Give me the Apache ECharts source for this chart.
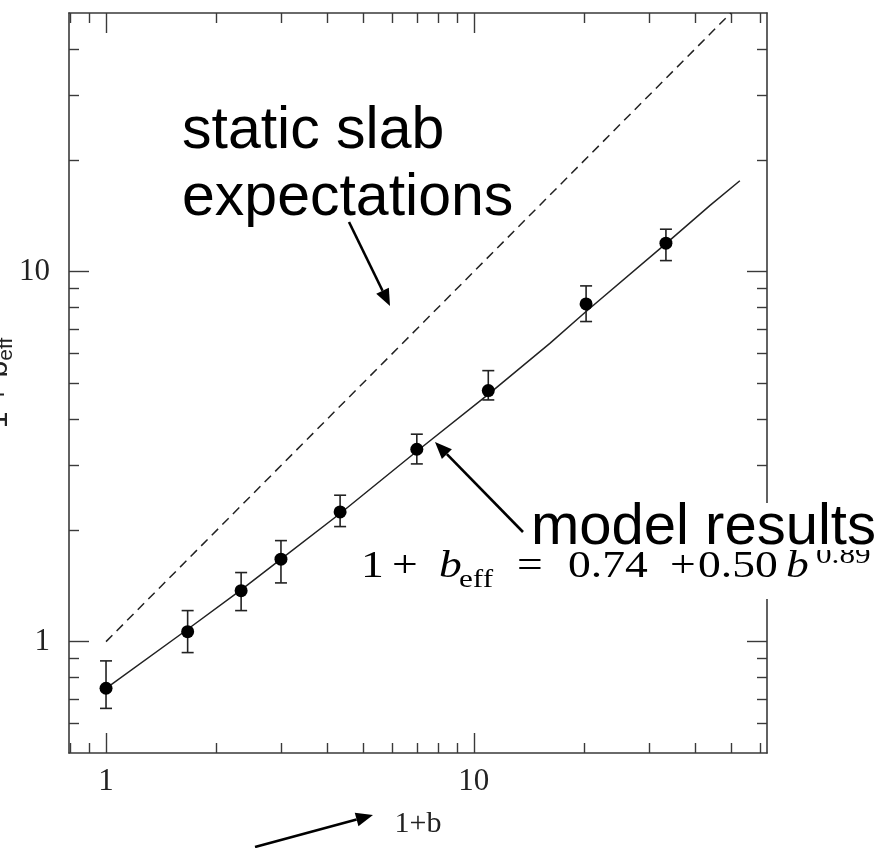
<!DOCTYPE html>
<html>
<head>
<meta charset="utf-8">
<title>1+b_eff versus 1+b</title>
<script src="https://cdn.jsdelivr.net/npm/echarts@6/dist/echarts.min.js"></script>
<style>
  html, body { margin: 0; padding: 0; background: #ffffff; }
  #chart { width: 890px; height: 848px; }
</style>
</head>
<body>
<div id="chart"></div>
<script>
// Measured points: 1+b, 1+b_eff with lower / upper error limits
const pointX = [1, 1.667, 2.33, 2.99, 4.33, 7.0, 10.95, 20.2, 33.3];
const pointY = [0.748, 1.064, 1.373, 1.670, 2.242, 3.311, 4.77, 8.18, 11.94];
const pointLow = [0.66, 0.934, 1.213, 1.441, 2.046, 3.022, 4.50, 7.33, 10.71];
const pointHigh = [0.887, 1.213, 1.537, 1.875, 2.487, 3.636, 5.40, 9.15, 13.02];

// Model curve 1 + b_eff = 0.74 + 0.50 b^0.89 (vertices)
const modelX = [1, 1.667, 2.33, 2.99, 4.33, 7.0, 10.95, 16.1, 20.2, 33.3, 43.9, 52.9];
const modelY = [0.748, 1.08, 1.38, 1.67, 2.22, 3.27, 4.66, 6.4, 7.8, 11.9, 15.1, 17.6];

// Static slab expectation: 1 + b_eff = 1 + b
const slabX = [1, 50];
const slabY = [1, 50];

// Axis ranges and ticks
const xRange = [0.7931, 62.7];
const yRange = [0.5, 50];
const xMajorTicks = [1, 10];
const xMinorTicks = [0.8, 0.9, 2, 3, 4, 5, 6, 7, 8, 9, 20, 30, 40, 50, 60];
const yMajorTicks = [1, 10];
const yMinorTicks = [0.6, 0.7, 0.8, 0.9, 2, 3, 4, 5, 6, 7, 8, 9, 20, 30, 40];
const tickLabels = [1, 10];

const INK = '#222222';
const FRAME = '#3a3a3a';
const SERIF = '"Liberation Serif", "DejaVu Serif", serif';
const SANS = '"Liberation Sans", Arial, sans-serif';

const chart = echarts.init(document.getElementById('chart'), null, { renderer: 'canvas' });

function tickAxis(dim, position, ticks, len, withLine, extra) {
  const range = dim === 'x' ? xRange : yRange;
  return Object.assign({
    type: 'log',
    logBase: 10,
    gridIndex: 0,
    position: position,
    min: range[0],
    max: range[1],
    axisLine: { show: withLine, lineStyle: { color: FRAME, width: 1.6 } },
    axisTick: { show: true, inside: true, length: len, customValues: ticks,
                lineStyle: { color: FRAME, width: 1.4 } },
    axisLabel: { show: false },
    splitLine: { show: false },
    minorTick: { show: false },
    minorSplitLine: { show: false }
  }, extra || {});
}

const xAxes = [
  tickAxis('x', 'bottom', xMinorTicks, 10, true, {
    axisLabel: {
      show: true, customValues: tickLabels, margin: 13,
      fontFamily: SERIF, fontSize: 31, color: INK,
      formatter: v => String(Math.round(v))
    },
    name: '1+b', nameLocation: 'middle', nameGap: 56,
    nameTextStyle: { fontFamily: SERIF, fontSize: 30, color: INK }
  }),
  tickAxis('x', 'bottom', xMajorTicks, 20, false),
  tickAxis('x', 'top', xMinorTicks, 10, true),
  tickAxis('x', 'top', xMajorTicks, 20, false)
];

const yAxes = [
  tickAxis('y', 'left', yMinorTicks, 10, true, {
    axisLabel: {
      show: true, customValues: tickLabels, margin: 19,
      fontFamily: SERIF, fontSize: 31, color: INK,
      formatter: v => String(Math.round(v))
    },
    name: '1 + b{s|eff}', nameLocation: 'middle', nameGap: 52, nameRotate: 90,
    nameMoveOverlap: false,
    nameTextStyle: {
      fontFamily: SANS, fontSize: 30, color: INK, lineHeight: 36,
      rich: { s: { fontFamily: SANS, fontSize: 21, color: INK, verticalAlign: 'bottom', lineHeight: 36 } }
    }
  }),
  tickAxis('y', 'left', yMajorTicks, 20, false),
  tickAxis('y', 'right', yMinorTicks, 10, true),
  tickAxis('y', 'right', yMajorTicks, 20, false)
];

const pointData = pointX.map((x, i) => [x, pointY[i]]);
const errorData = pointX.map((x, i) => [x, pointLow[i], pointHigh[i]]);
const modelData = modelX.map((x, i) => [x, modelY[i]]);
const slabData = slabX.map((x, i) => [x, slabY[i]]);

// Arrow annotation: shaft plus filled head at the tip
function arrow(x0, y0, x1, y1) {
  const ang = Math.atan2(y1 - y0, x1 - x0);
  const headLen = 17, headHalf = 7;
  const bx = x1 - headLen * Math.cos(ang), by = y1 - headLen * Math.sin(ang);
  const nx = -Math.sin(ang), ny = Math.cos(ang);
  return [
    { type: 'line', z: 50, shape: { x1: x0, y1: y0, x2: bx, y2: by },
      style: { stroke: '#000', lineWidth: 2.6 } },
    { type: 'polygon', z: 50,
      shape: { points: [[x1, y1], [bx + nx * headHalf, by + ny * headHalf], [bx - nx * headHalf, by - ny * headHalf]] },
      style: { fill: '#000' } }
  ];
}

// Text placed by its left edge and vertical centre of its line box
function label(text, x, y, font, opts) {
  opts = opts || {};
  return {
    type: 'text', z: opts.z || 60, x: x, y: y,
    scaleX: opts.scaleX || 1, scaleY: 1,
    style: {
      text: text, x: 0, y: 0, font: font, fill: '#000',
      align: 'left', textAlign: 'left', verticalAlign: 'middle', textVerticalAlign: 'middle'
    }
  };
}

const BIG = '59px ' + SANS;
const MID = '58px ' + SANS;
const EQ = '38px ' + SERIF;
const EQI = 'italic 38px ' + SERIF;
const EQS = '26px ' + SERIF;
const SX = 1.2;
const eqMid = 567;

const graphics = [].concat(
  [
    label('static slab', 182, 132, BIG),
    label('expectations', 182, 199, BIG),
    // formula panel (opaque, covers the frame behind it)
    { type: 'rect', z: 55, shape: { x: 360, y: 548, width: 530, height: 51 }, style: { fill: '#ffffff' } },
    label('1', 361, eqMid, EQ, { scaleX: SX, z: 56 }),
    label('+', 392, eqMid, EQ, { scaleX: SX, z: 56 }),
    label('b', 439, eqMid, EQI, { scaleX: SX, z: 56 }),
    label('eff', 459, eqMid + 13, EQS, { scaleX: SX, z: 56 }),
    label('=', 517, eqMid, EQ, { scaleX: SX, z: 56 }),
    label('0.74', 568, eqMid, EQ, { scaleX: SX, z: 56 }),
    label('+', 670, eqMid, EQ, { scaleX: SX, z: 56 }),
    label('0.50', 698, eqMid, EQ, { scaleX: SX, z: 56 }),
    label('b', 786, eqMid, EQI, { scaleX: SX, z: 56 }),
    label('0.89', 816, eqMid - 11, EQS, { scaleX: SX, z: 56 }),
    // opaque box behind the "model results" caption
    { type: 'rect', z: 57, shape: { x: 531, y: 503, width: 359, height: 47 }, style: { fill: '#ffffff' } },
    label('model results', 531, 528, MID, { z: 60 })
  ],
  arrow(349, 222, 390, 306),
  arrow(523, 532, 435, 442),
  arrow(255, 847, 373, 815)
);

const option = {
  backgroundColor: '#ffffff',
  animation: false,
  grid: { left: 69, top: 13, right: 123, bottom: 95, containLabel: false, outerBoundsMode: 'none' },
  xAxis: xAxes,
  yAxis: yAxes,
  series: [
    {
      name: 'static slab', type: 'line', xAxisIndex: 0, yAxisIndex: 0,
      data: slabData, symbol: 'none', smooth: false, z: 3,
      lineStyle: { color: INK, width: 1.5, type: [9, 6] }
    },
    {
      name: 'model', type: 'line', xAxisIndex: 0, yAxisIndex: 0,
      data: modelData, symbol: 'none', smooth: false, z: 4,
      lineStyle: { color: INK, width: 1.5 }
    },
    {
      name: 'error', type: 'custom', xAxisIndex: 0, yAxisIndex: 0, z: 5,
      data: errorData,
      encode: { x: 0, y: [1, 2] },
      renderItem: function (params, api) {
        const lo = api.coord([api.value(0), api.value(1)]);
        const hi = api.coord([api.value(0), api.value(2)]);
        const cap = 6;
        const st = { stroke: INK, lineWidth: 1.6 };
        return {
          type: 'group',
          children: [
            { type: 'line', shape: { x1: lo[0], y1: lo[1], x2: hi[0], y2: hi[1] }, style: st },
            { type: 'line', shape: { x1: lo[0] - cap, y1: lo[1], x2: lo[0] + cap, y2: lo[1] }, style: st },
            { type: 'line', shape: { x1: hi[0] - cap, y1: hi[1], x2: hi[0] + cap, y2: hi[1] }, style: st }
          ]
        };
      }
    },
    {
      name: 'points', type: 'scatter', xAxisIndex: 0, yAxisIndex: 0, z: 6,
      data: pointData, symbol: 'circle', symbolSize: 13,
      itemStyle: { color: '#000', opacity: 1 }
    }
  ],
  graphic: graphics
};

chart.setOption(option);
</script>
</body>
</html>
